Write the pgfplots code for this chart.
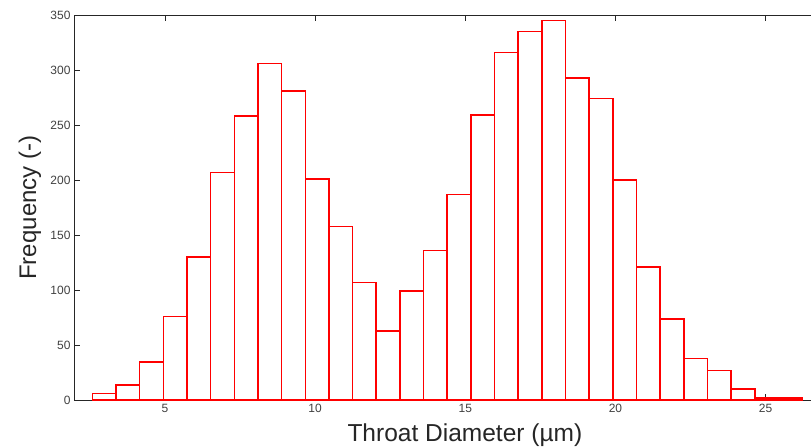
\documentclass[border=0pt]{standalone}
\usepackage{fontspec}
\setmainfont{Liberation Sans}
\usepackage{pgfplots}
\pgfplotsset{compat=1.18}
\begin{document}
\begin{tikzpicture}
\begin{axis}[
  scale only axis,
  width=737pt, height=385pt,
  xmin=1.97, xmax=26.53,
  ymin=0, ymax=350,
  xtick={5,10,15,20,25},
  ytick={0,50,100,150,200,250,300,350},
  xtick pos=both,
  ytick pos=left,
  tick align=inside,
  major tick length=6pt,
  axis line style={draw=black!85, line width=0.8pt},
  every tick/.style={draw=black!85, line width=0.8pt},
  /pgf/number format/assume math mode=true,
  ticklabel style={font=\fontsize{12}{14}\selectfont, text=black!75},
  xlabel={Throat Diameter (µm)},
  ylabel={Frequency (-)},
  xlabel style={font=\fontsize{24.5}{28}\selectfont, text=black!85, at={(axis description cs:0.53,-0.1065)}, anchor=base},
  ylabel style={font=\fontsize{24}{28}\selectfont, text=black!85, at={(axis description cs:-0.06,0.5)}, anchor=center},
]
\addplot[ybar interval, draw=red, fill=white, line width=1.6pt] coordinates {
(2.580,6) (3.368,14) (4.156,35) (4.944,76) (5.732,130) (6.520,207) (7.308,258) (8.096,306) (8.884,281) (9.672,201)
(10.460,158) (11.248,107) (12.036,63) (12.824,99) (13.612,136) (14.400,187) (15.188,259) (15.976,316) (16.764,335) (17.552,345)
(18.340,293) (19.128,274) (19.916,200) (20.704,121) (21.492,74) (22.280,38) (23.068,27) (23.856,10) (24.644,2) (25.432,2)
(26.220,2)
};
\end{axis}
\pgfresetboundingbox
\path[use as bounding box] ([shift={(-74pt,-46pt)}]current axis.south west) rectangle ([shift={(-0.5pt,15pt)}]current axis.north east);
\end{tikzpicture}
\end{document}
